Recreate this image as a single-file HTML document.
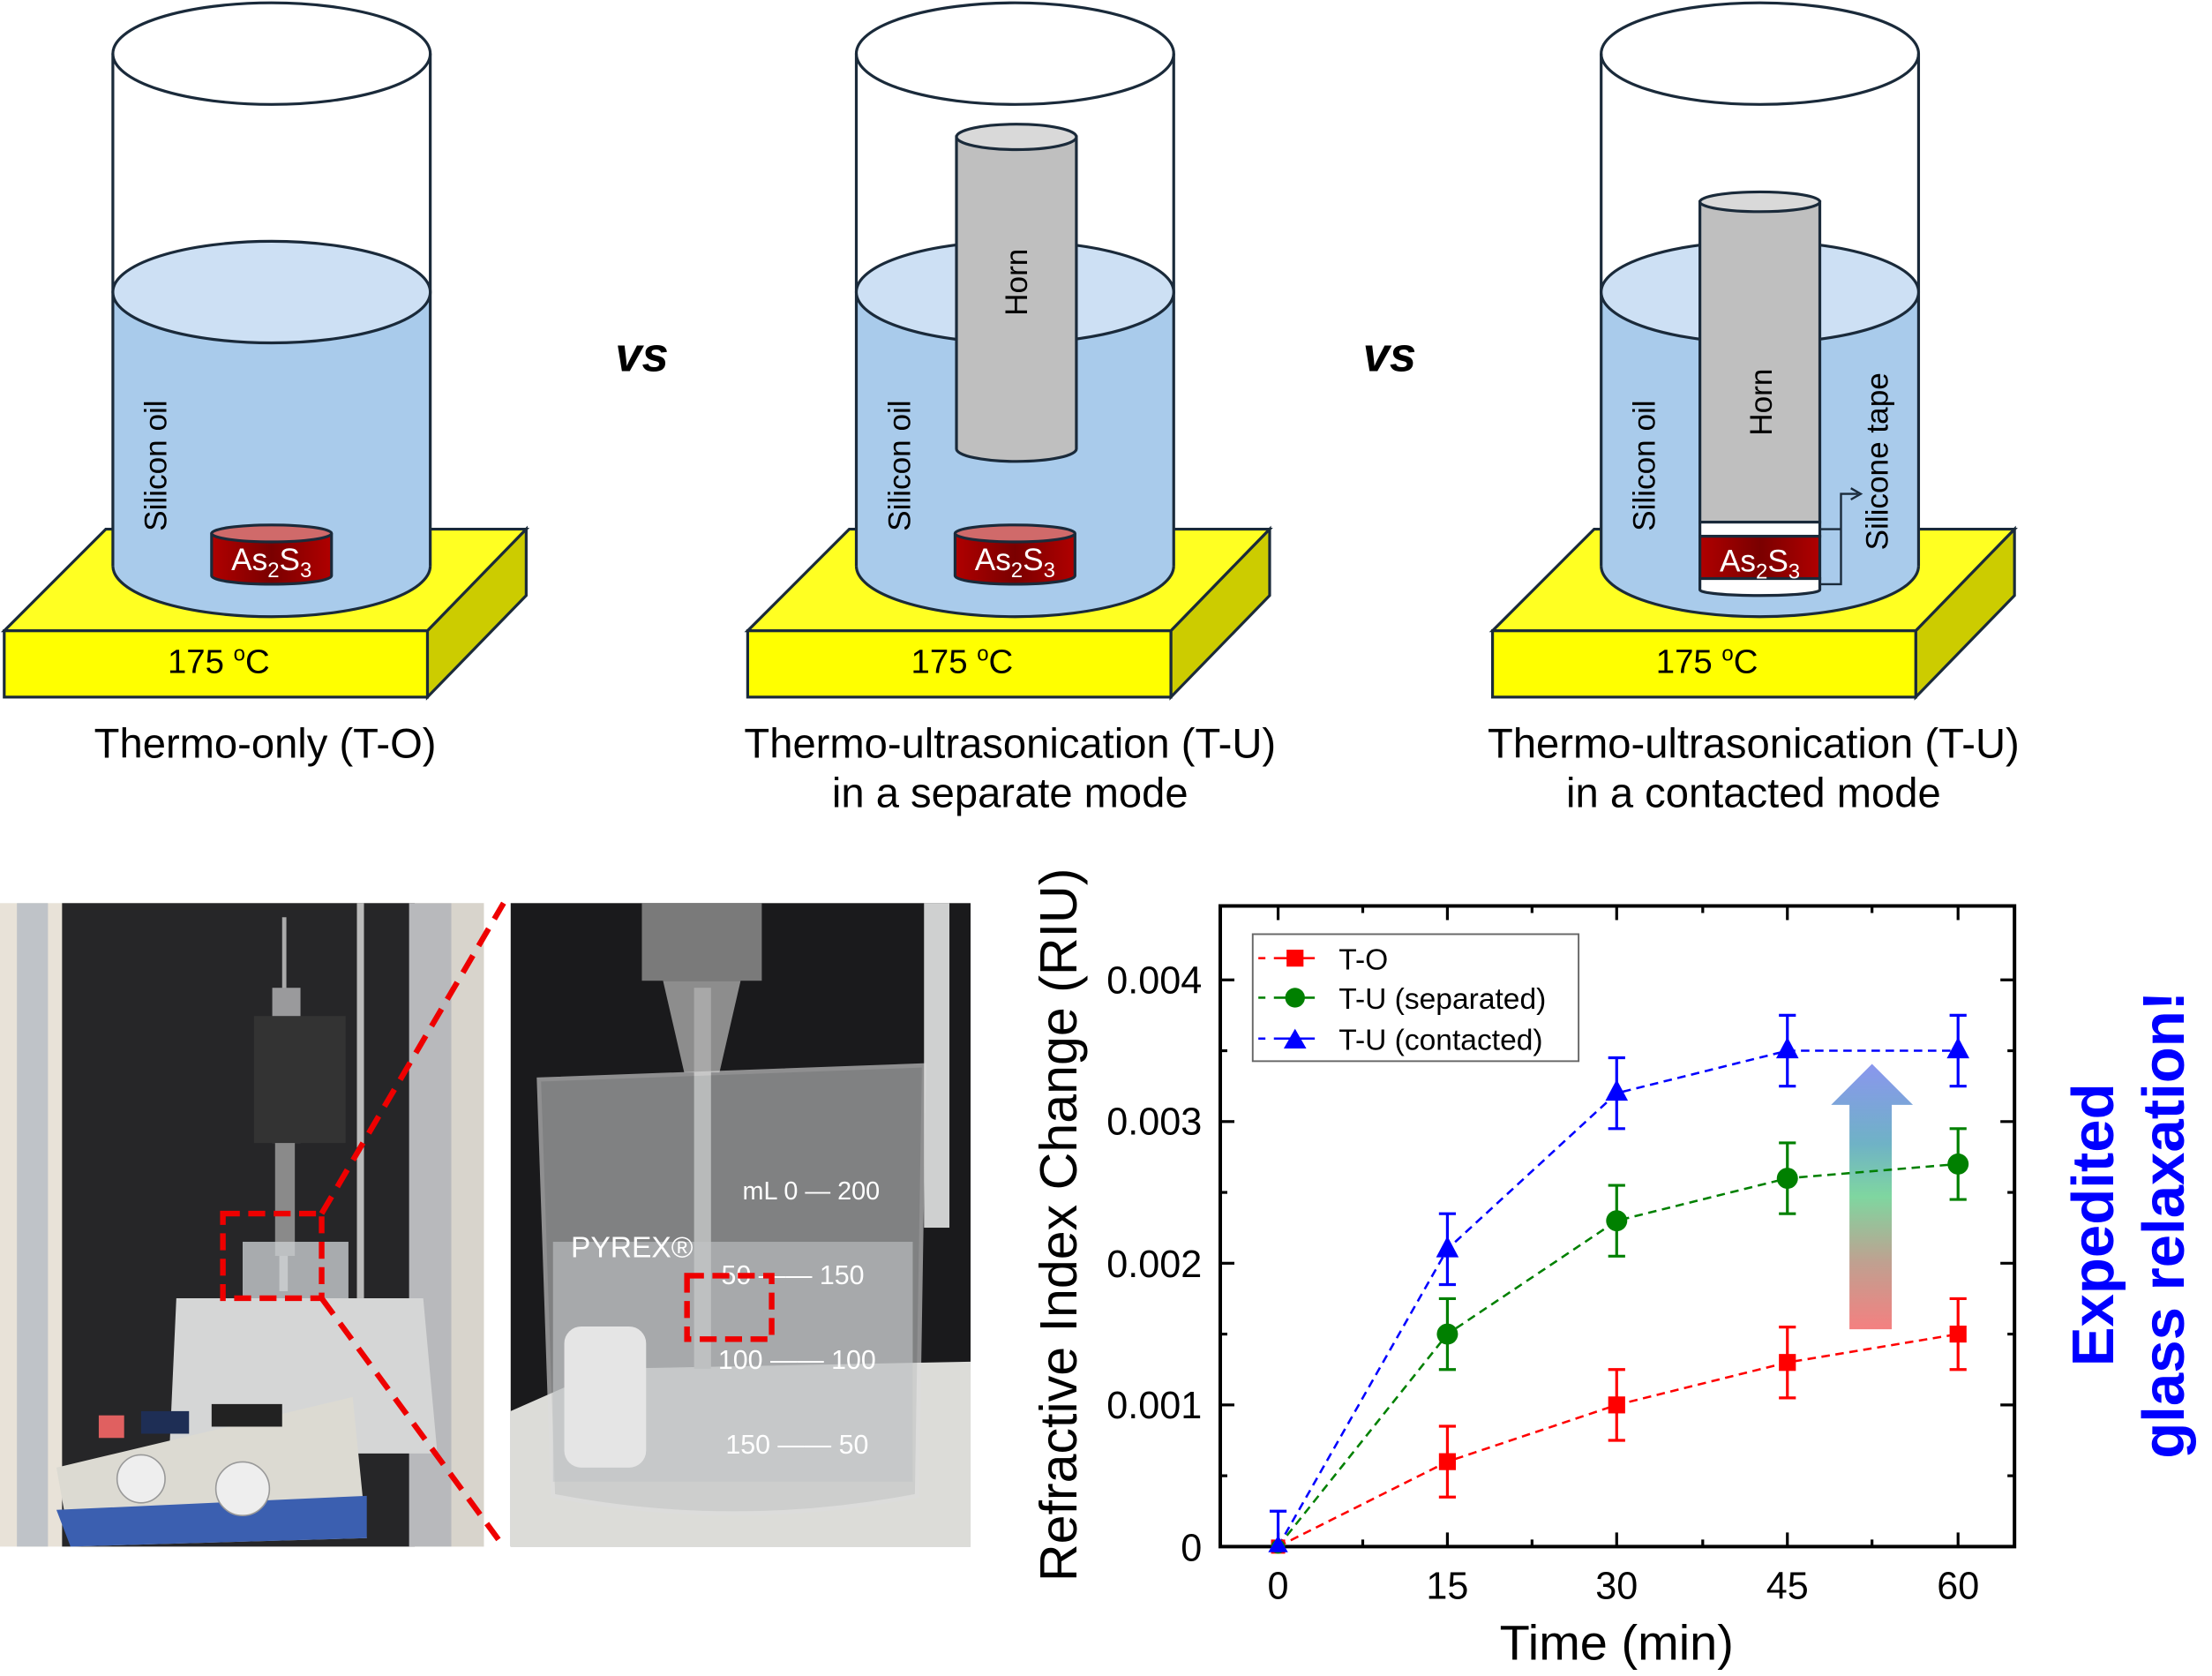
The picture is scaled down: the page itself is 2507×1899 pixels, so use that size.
<!DOCTYPE html>
<html><head><meta charset="utf-8"><style>
html,body{margin:0;padding:0;background:#fff;}
svg{display:block;}
text{font-family:"Liberation Sans",Arial,sans-serif;}
</style></head><body>
<svg width="2507" height="1899" viewBox="0 0 1568 1187.7" preserveAspectRatio="none" xmlns="http://www.w3.org/2000/svg">
<defs>
<linearGradient id="redh" x1="0" y1="0" x2="1" y2="0"><stop offset="0" stop-color="#b00000"/><stop offset="0.5" stop-color="#7a0000"/><stop offset="1" stop-color="#b00000"/></linearGradient>
<linearGradient id="arr" x1="0" y1="0" x2="0" y2="1"><stop offset="0" stop-color="#8a96ee"/><stop offset="0.3" stop-color="#6fb2c6"/><stop offset="0.5" stop-color="#7fd6a0"/><stop offset="0.75" stop-color="#c0a090"/><stop offset="1" stop-color="#f48080"/></linearGradient>
<g id="base">
  <polygon points="75,375 373,375 303,447 3,447" fill="#ffff22" stroke="#1a2a3a" stroke-width="2"/>
  <polygon points="303,447 373,375 373,422 303,494" fill="#cccc00" stroke="#1a2a3a" stroke-width="2"/>
  <rect x="3" y="447" width="300" height="47" fill="#ffff00" stroke="#1a2a3a" stroke-width="2"/>
  <path d="M80,207 L80,401 A112.5,36 0 0 0 305,401 L305,207 Z" fill="#a9cbeb"/>
  <ellipse cx="192.5" cy="38" rx="112.5" ry="36" fill="#fff" stroke="#1a2a3a" stroke-width="2"/>
  <line x1="80" y1="38" x2="80" y2="401" stroke="#1a2a3a" stroke-width="2"/>
  <line x1="305" y1="38" x2="305" y2="401" stroke="#1a2a3a" stroke-width="2"/>
  <path d="M80,401 A112.5,36 0 0 0 305,401" fill="none" stroke="#1a2a3a" stroke-width="2"/>
  <text x="155" y="477" font-size="24" text-anchor="middle">175 <tspan font-size="15" dy="-9">o</tspan><tspan dy="9">C</tspan></text>
</g>
<g id="oiltop"><ellipse cx="192.5" cy="207" rx="112.5" ry="36" fill="#cde0f4" stroke="#1a2a3a" stroke-width="2"/></g>
<g id="disc">
  <path d="M150,378 L150,408 A42.5,6 0 0 0 235,408 L235,378" fill="url(#redh)" stroke="#1a2a3a" stroke-width="2"/>
  <ellipse cx="192.5" cy="378" rx="42.5" ry="6" fill="#d06a6a" stroke="#1a2a3a" stroke-width="2"/>
  <text x="192.5" y="404" font-size="22" fill="#fff" text-anchor="middle">As<tspan font-size="15" dy="5">2</tspan><tspan dy="-5">S</tspan><tspan font-size="15" dy="5">3</tspan></text>
</g>
</defs>

<use href="#base"/>
<use href="#oiltop"/>
<use href="#disc"/>
<text transform="translate(118,330) rotate(-90)" font-size="22" text-anchor="middle">Silicon oil</text>
<text x="188" y="537" font-size="29.5" text-anchor="middle">Thermo-only (T-O)</text>

<text x="455" y="263" font-size="34" font-weight="bold" font-style="italic" text-anchor="middle">vs</text>
<text x="985" y="263" font-size="34" font-weight="bold" font-style="italic" text-anchor="middle">vs</text>

<g transform="translate(527,0)">
  <use href="#base"/>
  <use href="#oiltop"/>
  <path d="M151,97 L151,318 A42.5,9 0 0 0 236,318 L236,97 Z" fill="#bfbfbf" stroke="#1a2a3a" stroke-width="2"/>
  <ellipse cx="193.5" cy="97" rx="42.5" ry="9" fill="#d9d9d9" stroke="#1a2a3a" stroke-width="2"/>
  <text transform="translate(201,200) rotate(-90)" font-size="22" text-anchor="middle">Horn</text>
  <use href="#disc"/>
  <text transform="translate(118,330) rotate(-90)" font-size="22" text-anchor="middle">Silicon oil</text>
  <text x="189" y="537" font-size="29.5" text-anchor="middle">Thermo-ultrasonication (T-U)</text>
  <text x="189" y="572" font-size="29.5" text-anchor="middle">in a separate mode</text>
</g>

<g transform="translate(1055,0)">
  <use href="#base"/>
  <use href="#oiltop"/>
  <path d="M150,143 L150,370 L235,370 L235,143 Z" fill="#bfbfbf" stroke="#1a2a3a" stroke-width="2"/>
  <ellipse cx="192.5" cy="143" rx="42.5" ry="7" fill="#d9d9d9" stroke="#1a2a3a" stroke-width="2"/>
  <rect x="150" y="370" width="85" height="10" fill="#fff" stroke="#1a2a3a" stroke-width="2"/>
  <rect x="150" y="380" width="85" height="30" fill="url(#redh)" stroke="#1a2a3a" stroke-width="2"/>
  <path d="M150,410 L150,418 A42.5,4 0 0 0 235,418 L235,410 Z" fill="#fff" stroke="#1a2a3a" stroke-width="2"/>
  <text x="192.5" y="405" font-size="22" fill="#fff" text-anchor="middle">As<tspan font-size="15" dy="5">2</tspan><tspan dy="-5">S</tspan><tspan font-size="15" dy="5">3</tspan></text>
  <text transform="translate(201,285) rotate(-90)" font-size="22" text-anchor="middle">Horn</text>
  <path d="M235,375 L250,375 L250,350 L262,350 M235,414 L250,414 L250,375" fill="none" stroke="#1a2a3a" stroke-width="1.5"/>
  <path d="M257,346 L264,350 L257,354" fill="none" stroke="#1a2a3a" stroke-width="1.5"/>
  <text transform="translate(118,330) rotate(-90)" font-size="22" text-anchor="middle">Silicon oil</text>
  <text transform="translate(283,327) rotate(-90)" font-size="22" text-anchor="middle">Silicone tape</text>
  <text x="188" y="537" font-size="29.5" text-anchor="middle">Thermo-ultrasonication (T-U)</text>
  <text x="188" y="572" font-size="29.5" text-anchor="middle">in a contacted mode</text>
</g>

<!-- Left photo -->
<rect x="0" y="640" width="343" height="456" fill="#e8e2d8"/>
<rect x="12" y="640" width="22" height="456" fill="#bfc3c8"/>
<rect x="44" y="640" width="250" height="456" fill="#262628"/>
<rect x="290" y="640" width="30" height="456" fill="#b8b9bc"/>
<rect x="320" y="640" width="23" height="456" fill="#d8d4cc"/>
<rect x="200" y="650" width="3" height="70" fill="#aaa"/>
<rect x="253" y="640" width="5" height="280" fill="#bbb"/>
<rect x="193" y="700" width="20" height="110" fill="#9a9a9c"/>
<rect x="180" y="720" width="65" height="90" fill="#333"/>
<rect x="195" y="810" width="14" height="80" fill="#8a8a8a"/>
<rect x="198" y="890" width="6" height="25" fill="#bbb"/>
<rect x="172" y="880" width="75" height="50" fill="#c9cdd0" opacity="0.8"/>
<polygon points="125,920 300,920 310,1030 120,1030" fill="#d5d6d6"/>
<polygon points="40,1040 250,990 260,1090 50,1096" fill="#dcdad2"/>
<polygon points="40,1070 260,1060 260,1090 50,1096" fill="#3b5fb0"/>
<rect x="70" y="1003" width="18" height="16" fill="#e06060"/>
<rect x="100" y="1000" width="34" height="16" fill="#1e2e55"/>
<rect x="150" y="995" width="50" height="16" fill="#222"/>
<circle cx="100" cy="1048" r="17" fill="#eee" stroke="#999"/>
<circle cx="172" cy="1055" r="19" fill="#eee" stroke="#999"/>
<rect x="158" y="860" width="70" height="60" fill="none" stroke="#e00" stroke-width="4" stroke-dasharray="12,6"/>
<line x1="228" y1="860" x2="357" y2="640" stroke="#e00" stroke-width="4" stroke-dasharray="14,8"/>
<line x1="228" y1="920" x2="357" y2="1096" stroke="#e00" stroke-width="4" stroke-dasharray="14,8"/>

<!-- Right photo -->
<rect x="362" y="640" width="326" height="456" fill="#1a1a1c"/>
<rect x="655" y="640" width="18" height="230" fill="#cfd0d0"/>
<polygon points="362,1000 430,970 688,965 688,1096 362,1096" fill="#dcdcd8"/>
<rect x="455" y="640" width="85" height="55" fill="#7a7a7a"/>
<polygon points="470,695 525,695 510,760 485,760" fill="#8d8d8d"/>
<rect x="492" y="700" width="12" height="270" fill="#a8a8a8"/>
<path d="M382,765 L655,755 L650,1060 Q520,1085 392,1060 Z" fill="#c4c6c7" opacity="0.6" stroke="#ddd" stroke-width="3"/>
<rect x="392" y="880" width="255" height="170" fill="#c2c5c6" opacity="0.6"/>
<rect x="400" y="940" width="58" height="100" rx="12" fill="#e5e5e5"/>
<text x="448" y="891" font-size="21" fill="#fff" text-anchor="middle">PYREX®</text>
<text x="562" y="910" font-size="19" fill="#fff" text-anchor="middle">50 —— 150</text>
<text x="565" y="970" font-size="19" fill="#fff" text-anchor="middle">100 —— 100</text>
<text x="565" y="1030" font-size="19" fill="#fff" text-anchor="middle">150 —— 50</text>
<text x="575" y="850" font-size="18" fill="#fff" text-anchor="middle">mL 0 — 200</text>
<rect x="487" y="904" width="60" height="45" fill="none" stroke="#e00" stroke-width="4" stroke-dasharray="12,6"/>

<!-- Chart -->
<rect x="865" y="642" width="563" height="454" fill="none" stroke="#000" stroke-width="2.5"/>
<g stroke="#000" stroke-width="2">
  <line x1="906" y1="1096" x2="906" y2="1086"/><line x1="1026" y1="1096" x2="1026" y2="1086"/><line x1="1146" y1="1096" x2="1146" y2="1086"/><line x1="1267" y1="1096" x2="1267" y2="1086"/><line x1="1388" y1="1096" x2="1388" y2="1086"/>
  <line x1="966" y1="1096" x2="966" y2="1091"/><line x1="1086" y1="1096" x2="1086" y2="1091"/><line x1="1207" y1="1096" x2="1207" y2="1091"/><line x1="1327" y1="1096" x2="1327" y2="1091"/>
  <line x1="906" y1="642" x2="906" y2="652"/><line x1="1026" y1="642" x2="1026" y2="652"/><line x1="1146" y1="642" x2="1146" y2="652"/><line x1="1267" y1="642" x2="1267" y2="652"/><line x1="1388" y1="642" x2="1388" y2="652"/>
  <line x1="966" y1="642" x2="966" y2="647"/><line x1="1086" y1="642" x2="1086" y2="647"/><line x1="1207" y1="642" x2="1207" y2="647"/><line x1="1327" y1="642" x2="1327" y2="647"/>
  <line x1="865" y1="995.6" x2="875" y2="995.6"/><line x1="865" y1="895.2" x2="875" y2="895.2"/><line x1="865" y1="794.8" x2="875" y2="794.8"/><line x1="865" y1="694.4" x2="875" y2="694.4"/>
  <line x1="865" y1="1045.8" x2="870" y2="1045.8"/><line x1="865" y1="945.4" x2="870" y2="945.4"/><line x1="865" y1="845" x2="870" y2="845"/><line x1="865" y1="744.6" x2="870" y2="744.6"/>
  <line x1="1428" y1="995.6" x2="1418" y2="995.6"/><line x1="1428" y1="895.2" x2="1418" y2="895.2"/><line x1="1428" y1="794.8" x2="1418" y2="794.8"/><line x1="1428" y1="694.4" x2="1418" y2="694.4"/>
  <line x1="1428" y1="1045.8" x2="1423" y2="1045.8"/><line x1="1428" y1="945.4" x2="1423" y2="945.4"/><line x1="1428" y1="845" x2="1423" y2="845"/><line x1="1428" y1="744.6" x2="1423" y2="744.6"/>
</g>
<g font-size="27" text-anchor="end">
  <text x="852" y="1106">0</text><text x="852" y="1005">0.001</text><text x="852" y="905">0.002</text><text x="852" y="804">0.003</text><text x="852" y="704">0.004</text>
</g>
<g font-size="27" text-anchor="middle">
  <text x="906" y="1133">0</text><text x="1026" y="1133">15</text><text x="1146" y="1133">30</text><text x="1267" y="1133">45</text><text x="1388" y="1133">60</text>
</g>
<text x="1146" y="1176" font-size="35" text-anchor="middle">Time (min)</text>
<text transform="translate(763,868) rotate(-90)" font-size="37" text-anchor="middle">Refractive Index Change (RIU)</text>

<polygon points="1311,942 1311,783 1298,783 1327,754 1356,783 1341,783 1341,942" fill="url(#arr)"/>

<g fill="none" stroke-width="1.6" stroke-dasharray="6,4">
  <polyline points="906,1096 1026,1035.8 1146,995.6 1267,965.5 1388,945.4" stroke="#ff0000"/>
  <polyline points="906,1096 1026,945.4 1146,865.1 1267,835 1388,824.9" stroke="#008000"/>
  <polyline points="906,1096 1026,885.2 1146,774.7 1267,744.6 1388,744.6" stroke="#0000ff"/>
</g>
<g stroke-width="2" fill="none">
  <g stroke="#ff0000">
    <path d="M1026,1010.7V1060.9M1020,1010.7H1032M1020,1060.9H1032"/>
    <path d="M1146,970.5V1020.7M1140,970.5H1152M1140,1020.7H1152"/>
    <path d="M1267,940.4V990.6M1261,940.4H1273M1261,990.6H1273"/>
    <path d="M1388,920.3V970.5M1382,920.3H1394M1382,970.5H1394"/>
  </g>
  <g stroke="#008000">
    <path d="M1026,920.3V970.5M1020,920.3H1032M1020,970.5H1032"/>
    <path d="M1146,840V890.2M1140,840H1152M1140,890.2H1152"/>
    <path d="M1267,809.9V860.1M1261,809.9H1273M1261,860.1H1273"/>
    <path d="M1388,799.8V850M1382,799.8H1394M1382,850H1394"/>
  </g>
  <g stroke="#0000ff">
    <path d="M906,1070.9V1096M900,1070.9H912"/>
    <path d="M1026,860.1V910.3M1020,860.1H1032M1020,910.3H1032"/>
    <path d="M1146,749.6V799.8M1140,749.6H1152M1140,799.8H1152"/>
    <path d="M1267,719.5V769.7M1261,719.5H1273M1261,769.7H1273"/>
    <path d="M1388,719.5V769.7M1382,719.5H1394M1382,769.7H1394"/>
  </g>
</g>
<g fill="#ff0000">
  <rect x="901" y="1091" width="10" height="10"/><rect x="1020" y="1029.8" width="12" height="12"/><rect x="1140" y="989.6" width="12" height="12"/><rect x="1261" y="959.5" width="12" height="12"/><rect x="1382" y="939.4" width="12" height="12"/>
</g>
<g fill="#008000">
  <circle cx="906" cy="1096" r="5"/><circle cx="1026" cy="945.4" r="7.5"/><circle cx="1146" cy="865.1" r="7.5"/><circle cx="1267" cy="835" r="7.5"/><circle cx="1388" cy="824.9" r="7.5"/>
</g>
<g fill="#0000ff">
  <polygon points="906,1088 899,1100 913,1100"/>
  <polygon points="1026,876 1018,891 1034,891"/><polygon points="1146,765 1138,780 1154,780"/><polygon points="1267,735 1259,750 1275,750"/><polygon points="1388,735 1380,750 1396,750"/>
</g>

<rect x="888" y="662" width="231" height="90" fill="#fff" stroke="#666" stroke-width="1.2"/>
<g stroke-width="1.6">
  <line x1="892" y1="679" x2="897" y2="679" stroke="#f00"/><line x1="903" y1="679" x2="932" y2="679" stroke="#f00"/>
  <line x1="892" y1="707" x2="897" y2="707" stroke="#008000"/><line x1="903" y1="707" x2="932" y2="707" stroke="#008000"/>
  <line x1="892" y1="736" x2="897" y2="736" stroke="#00f"/><line x1="903" y1="736" x2="932" y2="736" stroke="#00f"/>
</g>
<rect x="912" y="673" width="12" height="12" fill="#f00"/>
<circle cx="918" cy="707" r="7" fill="#008000"/>
<polygon points="918,729 910,743 926,743" fill="#00f"/>
<g font-size="21">
  <text x="949" y="687">T-O</text><text x="949" y="715">T-U (separated)</text><text x="949" y="744">T-U (contacted)</text>
</g>

<g font-size="42" font-weight="bold" fill="#0000ff" text-anchor="middle">
  <text transform="translate(1498,868) rotate(-90)">Expedited</text>
  <text transform="translate(1548,868) rotate(-90)">glass relaxation!</text>
</g>
</svg>
</body></html>
